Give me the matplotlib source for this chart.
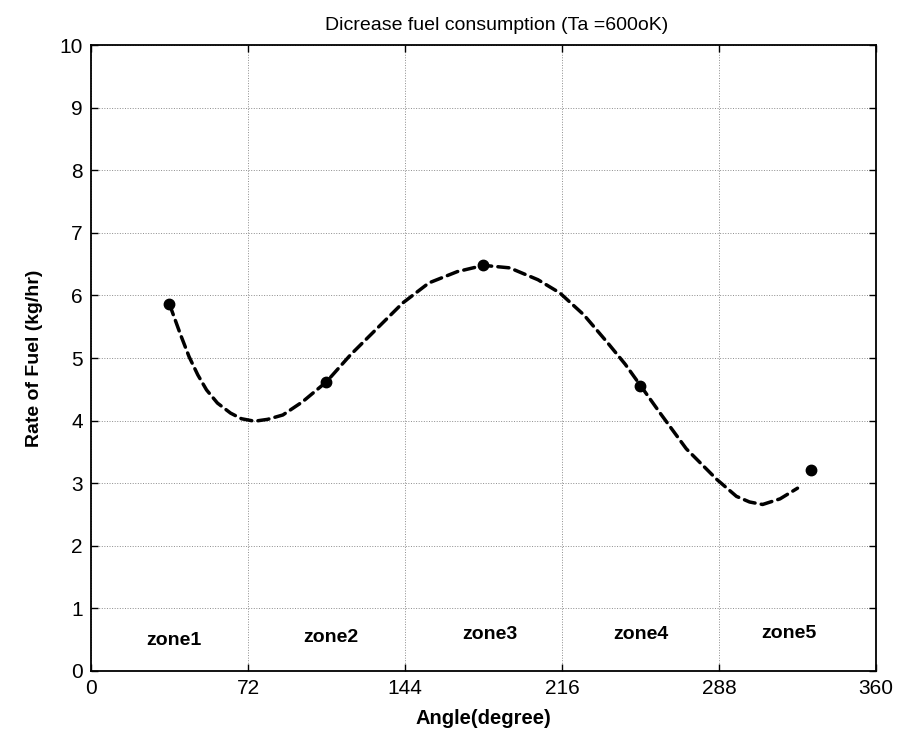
import matplotlib
matplotlib.use('Agg')
import matplotlib.pyplot as plt

plt.rcParams['font.family'] = ['Liberation Sans', 'DejaVu Sans']

# measured zone points (degree, kg/hr)
zone_angle = [36, 108, 180, 252, 330]
zone_rate = [5.86, 4.62, 6.48, 4.56, 3.21]

# fitted curve
fit_angle = [36, 41, 45, 49, 53, 58, 64, 69, 75, 81, 88, 97, 108, 119, 132,
             143, 155, 168, 180, 192, 205, 215, 226, 237, 245, 252, 261, 273,
             287, 296, 302, 308, 316, 324]
fit_rate = [5.86, 5.38, 5.02, 4.73, 4.49, 4.28, 4.12, 4.03, 3.99, 4.02, 4.09,
            4.30, 4.62, 5.05, 5.50, 5.88, 6.20, 6.38, 6.48, 6.44, 6.25, 6.04,
            5.69, 5.24, 4.90, 4.56, 4.12, 3.55, 3.06, 2.79, 2.70, 2.66, 2.75,
            2.92]

zone_names = ['zone1', 'zone2', 'zone3', 'zone4', 'zone5']
zone_label_x = [38, 110, 183, 252, 320]
zone_label_y = [0.49, 0.54, 0.58, 0.58, 0.60]

xticks = [0, 72, 144, 216, 288, 360]
yticks = list(range(0, 11))

fig = plt.figure(figsize=(8.98, 7.38), dpi=100)
ax = fig.add_axes([0.1013, 0.0908, 0.8742, 0.8482])

ax.plot(fit_angle, fit_rate, color='black', lw=2.5, linestyle=(0, (3.2, 1.8)),
        dash_capstyle='round', solid_joinstyle='round')
ax.plot(zone_angle, zone_rate, 'o', color='black', markersize=7.5)

for name, x, y in zip(zone_names, zone_label_x, zone_label_y):
    ax.text(x, y, name, ha='center', va='center', fontsize=14, fontweight='bold')

ax.set_xlim(0, 360)
ax.set_ylim(0, 10)
ax.set_xticks(xticks)
ax.set_yticks(yticks)
ax.tick_params(direction='in', top=True, right=True, length=5, width=1,
               labelsize=15, pad=6)
ax.grid(True, color='0.55', linestyle=':', linewidth=0.7)
for s in ax.spines.values():
    s.set_linewidth(1.3)

ax.set_title('Dicrease fuel consumption (Ta =600oK)', fontsize=14, x=0.517, pad=11)
ax.set_xlabel('Angle(degree)', fontsize=14.5, fontweight='bold', labelpad=8)
ax.set_ylabel('Rate of Fuel (kg/hr)', fontsize=14, fontweight='bold', labelpad=12)

fig.savefig('out.png', dpi=100)
